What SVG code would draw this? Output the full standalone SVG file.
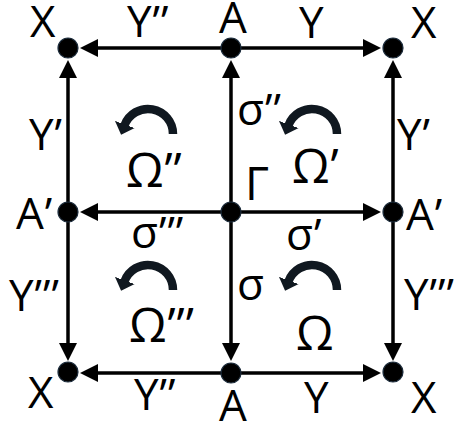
<svg xmlns="http://www.w3.org/2000/svg" width="455" height="427" viewBox="0 0 455 427">
<style>
text{font-family:"Open Sans","Noto Sans","Liberation Sans",sans-serif;fill:#000;font-size:44px}
.pr{letter-spacing:1px}
.om{font-size:48px}
.gm{font-size:46px}
.ln{stroke:#000;stroke-width:3.5;fill:none}
.rot{stroke:#101820;stroke-width:8.5;fill:none}
.dot{fill:#000;stroke:#1c2c3c;stroke-width:1.2}
</style>
<defs>
<marker id="ah" markerUnits="userSpaceOnUse" markerWidth="20" markerHeight="20" refX="0" refY="9" orient="auto"><path d="M0,0 L18,9 L0,18 z" fill="#000"/></marker>
<marker id="rh" markerUnits="userSpaceOnUse" markerWidth="14" markerHeight="22" refX="1" refY="10.5" orient="auto"><path d="M0,0 L11,10.5 L0,21 z" fill="#101820"/></marker>
</defs>
<g id="connectors">
<line class="ln" x1="231" y1="48" x2="98" y2="48" marker-end="url(#ah)"/>
<line class="ln" x1="231" y1="48" x2="363" y2="48" marker-end="url(#ah)"/>
<line class="ln" x1="68" y1="212" x2="68" y2="78" marker-end="url(#ah)"/>
<line class="ln" x1="231" y1="212" x2="231" y2="78" marker-end="url(#ah)"/>
<line class="ln" x1="393" y1="212" x2="393" y2="78" marker-end="url(#ah)"/>
<line class="ln" x1="231" y1="212" x2="98" y2="212" marker-end="url(#ah)"/>
<line class="ln" x1="231" y1="212" x2="363" y2="212" marker-end="url(#ah)"/>
<line class="ln" x1="68" y1="212" x2="68" y2="343" marker-end="url(#ah)"/>
<line class="ln" x1="231" y1="212" x2="231" y2="343" marker-end="url(#ah)"/>
<line class="ln" x1="393" y1="212" x2="393" y2="343" marker-end="url(#ah)"/>
<line class="ln" x1="231" y1="373" x2="98" y2="373" marker-end="url(#ah)"/>
<line class="ln" x1="231" y1="373" x2="363" y2="373" marker-end="url(#ah)"/>
</g>
<g id="rotations">
<path class="rot" d="M173,134 A25,25 0 0 0 124.5,125.4" marker-end="url(#rh)"/>
<path class="rot" d="M337,134 A25,25 0 0 0 288.5,125.4" marker-end="url(#rh)"/>
<path class="rot" d="M173,290 A25,25 0 0 0 124.5,281.4" marker-end="url(#rh)"/>
<path class="rot" d="M337,290 A25,25 0 0 0 288.5,281.4" marker-end="url(#rh)"/>
</g>
<g id="n-X-tl"><circle class="dot" cx="68" cy="48" r="10"/><text x="30" y="37">X</text></g>
<g id="n-A-t"><circle class="dot" cx="231" cy="48" r="10"/><text x="219" y="33">A</text></g>
<g id="n-X-tr"><circle class="dot" cx="393" cy="48" r="10"/><text x="411" y="38">X</text></g>
<g id="n-A2-l"><circle class="dot" cx="68" cy="212" r="10"/><text class="pr" x="16" y="229">A’</text></g>
<g id="n-G"><circle class="dot" cx="231" cy="212" r="10"/><text class="gm" x="245" y="200">Γ</text></g>
<g id="n-A2-r"><circle class="dot" cx="393" cy="212" r="10"/><text class="pr" x="406" y="230">A’</text></g>
<g id="n-X-bl"><circle class="dot" cx="68" cy="372" r="10"/><text x="28" y="408">X</text></g>
<g id="n-A-b"><circle class="dot" cx="231" cy="373" r="10"/><text x="219" y="421">A</text></g>
<g id="n-X-br"><circle class="dot" cx="393" cy="372" r="10"/><text x="411" y="413">X</text></g>
<g id="labels">
<text class="pr" x="127" y="37">Y’’</text>
<text x="299" y="38">Y</text>
<text class="pr" x="29" y="150">Y’</text>
<text class="pr" x="237" y="125">σ’’</text>
<text class="pr" x="397" y="150">Y’</text>
<text class="pr" x="131" y="248">σ’’’</text>
<text class="pr" x="286" y="250">σ’</text>
<text class="pr" x="9" y="311">Y’’’</text>
<text x="237" y="300">σ</text>
<text class="pr" x="404" y="310">Y’’’</text>
<text class="pr" x="134" y="410">Y’’</text>
<text x="304" y="413">Y</text>
<text class="om pr" x="126" y="187">Ω’’</text>
<text class="om pr" x="292" y="183">Ω’</text>
<text class="om pr" x="129" y="342">Ω’’’</text>
<text class="om" x="296" y="350">Ω</text>
</g>
</svg>
